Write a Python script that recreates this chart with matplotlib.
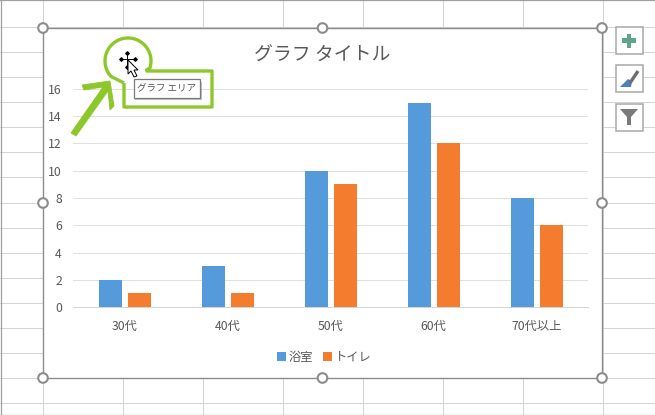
import matplotlib
matplotlib.use("Agg")
import matplotlib.pyplot as plt
from matplotlib.patches import Rectangle, Circle, Polygon, PathPatch
from matplotlib.path import Path
import numpy as np

plt.rcParams['font.family'] = ['Noto Sans CJK JP', 'DejaVu Sans']

categories = ["30代", "40代", "50代", "60代", "70代以上"]
bath = [2, 3, 10, 15, 8]
toilet = [1, 1, 9, 12, 6]
yticks = [0, 2, 4, 6, 8, 10, 12, 14, 16]

W, H = 655, 415
fig = plt.figure(figsize=(W / 100, H / 100), dpi=100, facecolor="white")

# whole figure in pixels, y going down, for the sheet and the chart frame
bg = fig.add_axes([0, 0, 1, 1], zorder=0)
bg.set_xlim(0, W)
bg.set_ylim(H, 0)
bg.axis("off")

for x in range(42, W, 80):
    bg.plot([x + 0.5, x + 0.5], [0, H], color="#d4d4d4", lw=0.72)
for y in range(27, H, 25):
    bg.plot([0, W], [y + 0.5, y + 0.5], color="#d4d4d4", lw=0.72)
bg.plot([0.5, 0.5], [0, H], color="#a0a0a0", lw=0.9)
bg.plot([0, W], [0.5, 0.5], color="#a0a0a0", lw=0.9)
bg.plot([0, W], [414.5, 414.5], color="#a0a0a0", lw=0.9)

bg.add_patch(Rectangle((43, 28), 559, 350, fc="white", ec="#8c8c8c", lw=1.0, zorder=2))
for hx in [43, 322.5, 602]:
    for hy in [28, 203, 378]:
        if hx == 322.5 and hy == 203:
            continue
        bg.add_patch(Circle((hx, hy), 4.8, fc="white", ec="#8c8c8c", lw=1.5, zorder=3))

# plot area
ax = fig.add_axes([73 / W, 1 - 307 / H, 515 / W, 218 / H], zorder=1)
ax.patch.set_alpha(0)
x = np.arange(len(categories))
ax.bar(x - 0.138, bath, 0.223, color="#559bdb", label="浴室", zorder=2)
ax.bar(x + 0.141, toilet, 0.223, color="#f37c2f", label="トイレ", zorder=2)
ax.set_xlim(-0.5, 4.5)
ax.set_ylim(0, 16)
ax.set_yticks(yticks)
ax.set_xticks(x)
ax.set_xticklabels(categories)
ax.tick_params(axis="both", length=0, labelsize=8.8, labelcolor="#595959")
ax.tick_params(axis="x", pad=9)
ax.tick_params(axis="y", pad=8)
ax.grid(axis="y", color="#e0e0e0", lw=0.72, zorder=0)
ax.set_axisbelow(True)
for s in ["top", "right", "left"]:
    ax.spines[s].set_visible(False)
ax.spines["bottom"].set_color("#d4d4d4")
ax.spines["bottom"].set_linewidth(0.72)
fig.text(322 / W, 1 - 55.5 / H, "グラフ タイトル", fontsize=13.6, color="#595959", ha="center", va="center")
fig.legend(loc="center", bbox_to_anchor=(324.5 / W, 1 - 357 / H), ncol=2, frameon=False,
           fontsize=8.8, labelcolor="#595959", handlelength=0.7, handleheight=0.7,
           handletextpad=0.25, columnspacing=0.8)

# annotation layer on top
top = fig.add_axes([0, 0, 1, 1], zorder=5)
top.set_xlim(0, W)
top.set_ylim(H, 0)
top.axis("off")
top.patch.set_alpha(0)

green = "#8cc82a"
# speech-bubble outline: circle joined to a box
theta = np.radians(np.linspace(-18, 222, 50))
cx, cy = 128, 61
r = 23
arc_x = cx + r * np.cos(-theta)
arc_y = cy + r * np.sin(-theta)
bubble_x = [124, 124, 212, 212, 147] + [146.5]
bubble_y = [83, 107, 107, 71, 71] + [70]
verts = list(zip(bubble_x, bubble_y)) + list(zip(arc_x, arc_y)) + [(124, 83)]
top.add_patch(PathPatch(Path(verts), fc="none", ec=green, lw=2.4, joinstyle="round"))

# thick arrow pointing up to the bubble
top.add_patch(Polygon([(71, 133), (76, 136), (108, 91), (110, 110), (114, 106),
                       (110, 81), (82, 85), (84, 90), (103, 87)],
                      closed=True, fc=green, ec=green, lw=0.6))

# move cursor
top.plot([127, 127], [53, 68], color="black", lw=0.7)
top.plot([120, 135], [59.5, 59.5], color="black", lw=0.7)
top.scatter([127, 127, 120.5, 134.5], [53.5, 67.5, 59.5, 59.5], marker="D", s=3, color="black", zorder=6)
top.add_patch(Polygon([(128, 60), (128, 74), (131, 71), (134, 77), (137, 76), (134, 70), (138, 70)],
                      closed=True, fc="white", ec="black", lw=0.7, zorder=7))

# tooltip
top.add_patch(Rectangle((135, 82), 67, 18.5, fc="#9a9a9a", ec="none", alpha=0.6, zorder=7))
top.add_patch(Rectangle((133.5, 79.5), 66, 19, fc="white", ec="#7a7a7a", lw=0.9, zorder=8))
top.text(166.5, 89, "グラフ エリア", fontsize=6.8, color="#555555", ha="center", va="center", zorder=9)

# side buttons
for by in [27, 65, 103]:
    top.add_patch(Rectangle((615.5, by + 0.5), 27, 27, fc="white", ec="#a8a8a8", lw=1.1))
top.add_patch(Rectangle((622, 38.5), 14, 4.4, fc="#5fa58a", ec="none"))
top.add_patch(Rectangle((626.8, 34), 4.4, 14, fc="#5fa58a", ec="none"))
top.plot([630, 638], [83, 71], color="#6e6e6e", lw=2.4, solid_capstyle="butt")
top.add_patch(Polygon([(620, 87), (631, 87), (632, 81), (628, 79)], closed=True, fc="#4a7fc4", ec="none"))
top.add_patch(Polygon([(620, 109), (638, 109), (631, 117), (631, 125), (627, 125), (627, 117)],
                      closed=True, fc="#7a7a7a", ec="none"))

fig.savefig("out.png", dpi=100)
